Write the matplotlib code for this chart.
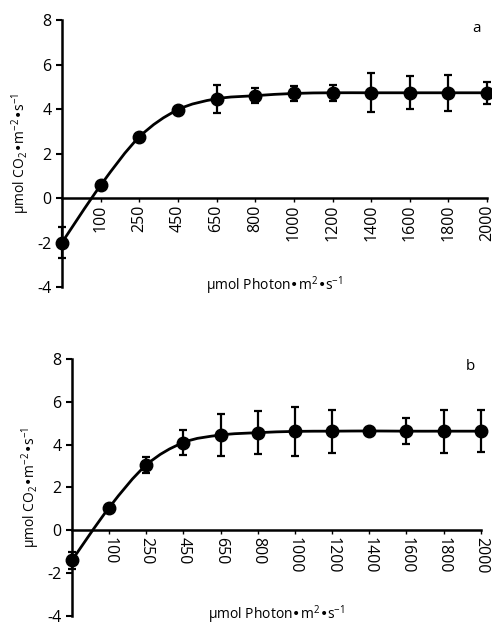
import matplotlib
matplotlib.use('Agg')
import matplotlib.pyplot as plt
import numpy as np
from matplotlib.path import Path
from matplotlib.patches import PathPatch

plt.rcParams['font.family'] = ['Open Sans', 'DejaVu Sans']
plt.rcParams['mathtext.default'] = 'regular'
plt.rcParams['axes.unicode_minus'] = False

# light levels (categories, evenly spaced)
light = ['0', '100', '250', '450', '650', '800', '1000', '1200', '1400', '1600', '1800', '2000']

# panel a
rate_a = [-2.0, 0.57, 2.74, 3.97, 4.46, 4.6, 4.7, 4.73, 4.73, 4.73, 4.73, 4.73]
err_a = [0.69, 0.15, 0.1, 0.1, 0.64, 0.35, 0.35, 0.37, 0.87, 0.75, 0.8, 0.5]

# panel b
rate_b = [-1.4, 1.06, 3.05, 4.1, 4.45, 4.56, 4.62, 4.63, 4.64, 4.63, 4.63, 4.63]
err_b = [0.4, 0.12, 0.38, 0.57, 1.0, 1.0, 1.15, 1.0, 0.05, 0.62, 1.0, 0.97]


def smooth_path(x, y):
    # catmull-rom spline drawn as cubic bezier segments
    p = np.column_stack([x, y]).astype(float)
    n = len(p)
    verts = [p[0]]
    codes = [Path.MOVETO]
    for i in range(n - 1):
        p0 = p[max(i - 1, 0)]
        p1 = p[i]
        p2 = p[i + 1]
        p3 = p[min(i + 2, n - 1)]
        c1 = p1 + (p2 - p0) / 6
        c2 = p2 - (p3 - p1) / 6
        verts += [c1, c2, p2]
        codes += [Path.CURVE4] * 3
    return Path(verts, codes)


def panel(ax, rate, err, letter, rot):
    x = np.arange(len(light))
    ax.add_patch(PathPatch(smooth_path(x, rate), fill=False, lw=2, color='black',
                           clip_on=False, zorder=3))
    ax.errorbar(x, rate, yerr=err, fmt='o', color='black', ms=9, elinewidth=1.6,
                capsize=3, capthick=1.6, clip_on=False, zorder=4)
    ax.set_xlim(0, 11)
    ax.set_ylim(-4, 8)
    ax.set_yticks([-4, -2, 0, 2, 4, 6, 8])
    ax.spines['top'].set_visible(False)
    ax.spines['right'].set_visible(False)
    ax.spines['bottom'].set_position(('data', 0))
    ax.spines['left'].set_linewidth(1.8)
    ax.spines['bottom'].set_linewidth(1.8)
    ax.set_xticks(x[1:])
    ax.set_xticklabels(light[1:], rotation=rot, va='top', ha='center')
    ax.tick_params(axis='x', direction='out', length=3, width=1, labelsize=11.5, pad=2)
    ax.tick_params(axis='y', direction='out', length=4, width=1.5, labelsize=11.5)
    ax.set_ylabel('µmol CO$_2$•m$^{-2}$•s$^{-1}$', fontsize=10, labelpad=4)
    ax.text(0.5, 0.005, 'µmol Photon•m$^2$•s$^{-1}$', transform=ax.transAxes,
            ha='center', va='center', fontsize=10)
    ax.text(0.985, 0.97, letter, transform=ax.transAxes, ha='right', va='center', fontsize=11)


fig = plt.figure(figsize=(4.92, 6.26), dpi=100)
ax1 = fig.add_axes([0.126, 0.5415, 0.864, 0.4265])
ax2 = fig.add_axes([0.1463, 0.016, 0.831, 0.4105])

panel(ax1, rate_a, err_a, 'a', 90)
panel(ax2, rate_b, err_b, 'b', -90)

fig.savefig('out.png', dpi=100)
